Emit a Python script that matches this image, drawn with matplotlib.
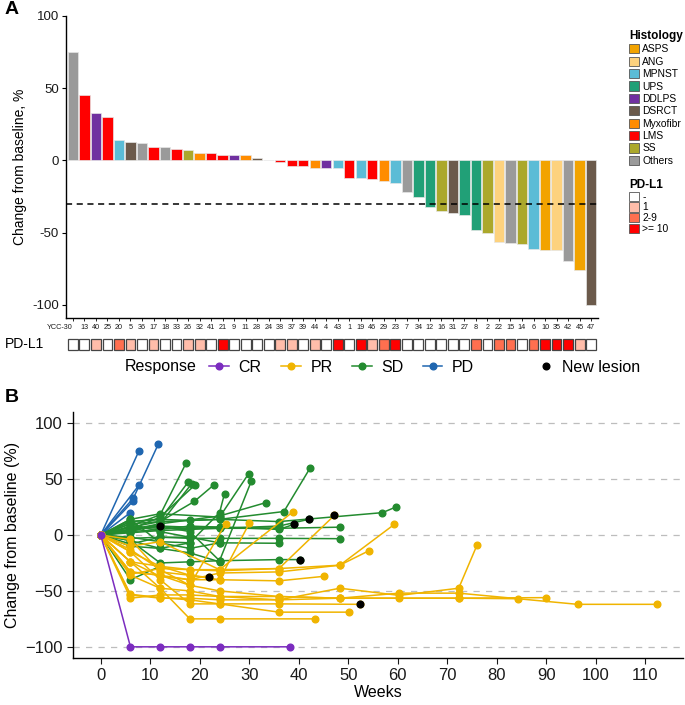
import matplotlib
matplotlib.use('Agg')
import matplotlib.pyplot as plt
import matplotlib.transforms as mtrans
from matplotlib.patches import Patch
from matplotlib.lines import Line2D
import numpy as np

plt.rcParams['font.family'] = ['Liberation Sans', 'DejaVu Sans']

# ---------------- Panel A data ----------------
patients = ['YCC-30', '13', '40', '25', '20', '5', '36', '17', '18', '33', '26', '32', '41', '21',
            '9', '11', '28', '24', '38', '37', '39', '44', '4', '43', '1', '19', '46', '29', '23',
            '7', '34', '12', '16', '31', '27', '8', '2', '22', '15', '14', '6', '10', '35', '42',
            '45', '47']
best_change = [75, 45, 33, 30, 14, 13, 12, 9, 9, 8, 7, 5, 5, 4, 4, 4, 2, 0.5, -0.8, -4, -4, -5,
               -5, -5, -12, -12, -12.5, -14.5, -15.5, -22, -25, -32, -35, -36, -38, -48, -50.5,
               -56.5, -57, -57.5, -61.5, -62, -62, -69.5, -75.5, -100]
histology = ['Others', 'LMS', 'DDLPS', 'LMS', 'MPNST', 'DSRCT', 'Others', 'LMS', 'Others', 'LMS',
             'SS', 'Myxofibr', 'LMS', 'LMS', 'DDLPS', 'Myxofibr', 'DSRCT', 'LMS', 'LMS', 'LMS',
             'LMS', 'Myxofibr', 'DDLPS', 'MPNST', 'LMS', 'MPNST', 'LMS', 'Myxofibr', 'MPNST',
             'Others', 'UPS', 'UPS', 'SS', 'DSRCT', 'UPS', 'UPS', 'SS', 'ANG', 'Others', 'SS',
             'MPNST', 'ASPS', 'ANG', 'Others', 'ASPS', 'DSRCT']
pdl1 = ['-', '-', '1', '-', '2-9', '1', '-', '1', '-', '-',
        '1', '1', '-', '>=10', '-', '-', '-', '-', '1', '1',
        '-', '1', '-', '>=10', '-', '>=10', '1', '2-9', '>=10', '-',
        '-', '-', '-', '-', '-', '2-9', '-', '2-9', '2-9', '-',
        '2-9', '>=10', '>=10', '>=10', '1', '-']

hist_levels = ['ASPS', 'ANG', 'MPNST', 'UPS', 'DDLPS', 'DSRCT', 'Myxofibr', 'LMS', 'SS', 'Others']
hist_colors = ['#F2A300', '#FDD27E', '#5BBCD6', '#21A077', '#7030A0', '#6B5A4B', '#FF8C00',
               '#FF0000', '#ABA82B', '#9A9A9A']
pd_levels = ['-', '1', '2-9', '>= 10']
pd_keys = ['-', '1', '2-9', '>=10']
pd_colors = ['#FFFFFF', '#FFBDAA', '#FF6F4F', '#FF0000']

# ---------------- Panel B data ----------------
pd_weeks = [[0, 7.7], [0, 6.6, 11.6], [0, 7.8], [0, 6.5], [0, 6]]
pd_values = [[0, 75], [0, 33, 81], [0, 45], [0, 30], [0, 20]]

cr_weeks = [[0, 6, 12, 18, 24, 38.3]]
cr_values = [[0, -100, -100, -100, -100, -100]]

sd_weeks = [[0, 6, 12, 17.2], [0, 6, 12, 17.6], [0, 6, 12, 18.4], [0, 6, 12, 19.1],
            [0, 6, 12, 18.9, 22.9], [0, 6, 12, 18, 24, 25], [0, 6, 12, 24, 29.9],
            [0, 6, 12, 18, 24, 30.4], [0, 6, 12, 24, 37, 42.3], [0, 6, 12, 24, 33.4],
            [0, 6, 12, 18, 24, 36, 48.3], [0, 6, 12, 18, 24, 36, 48.3],
            [0, 6, 12, 18, 24, 36, 56.9, 59.6], [0, 6, 12, 18, 24, 36, 40.3],
            [0, 6, 12, 18, 24], [0, 6, 12, 18, 24, 36], [0, 6, 12, 18, 24, 36, 39],
            [0, 6, 12, 18, 24, 36, 42], [0, 6, 12], [0, 6, 12, 18], [0, 6, 12, 18, 24],
            [0, 6, 12, 18, 24, 36], [0, 6, 12], [0, 6, 12, 18]]
sd_values = [[0, 8, 18, 64], [0, 12, 14, 47], [0, 3, 10, 46], [0, 5, 16, 45],
             [0, 10, 12, 30, 45], [0, -5, -12, -7, 20, 37], [0, 14, 19, 16, 55],
             [0, 5, 8, 3, -23, 48], [0, 7, 12, 14, 21, 60], [0, 5, 10, 17, 29],
             [0, 4, 8, 7, 7, 6, 7], [0, -3, -2, -3, -3, -3, -3.3],
             [0, 12, 14, 13, 14, 12, 20, 25], [0, -5, -25, -24, -23, -22, -22],
             [0, -10, -12, -16, -24], [0, 7, 6, 6, 6, 6], [0, 3, 5, 8, 7, 5, 9.5],
             [0, 2, 4, 5, 6, 8, 14], [0, 5, 8], [0, -2, -6, -7], [0, 14, -7, -12, -7],
             [0, -8, -2, -2, -7, -7.4], [0, -40, -28], [0, 10, 3, -2]]

pr_weeks = [[0, 6, 12, 18, 24, 43.3], [0, 6, 12, 18, 24, 36, 50.2],
            [0, 6, 12, 18, 24, 36, 52.3], [0, 6, 12, 18, 24, 36, 48.3, 60.3, 72.3, 84.3],
            [0, 6, 12, 18, 24, 36, 48.3, 60.3, 72.3, 96.3, 112.4],
            [0, 6, 12, 18, 24, 36, 48.3, 60.3, 72.3, 76],
            [0, 6, 12, 18, 24, 36, 48.3, 72.3, 90], [0, 6, 12, 18, 24, 36, 48.3, 59.3],
            [0, 6, 12, 18, 24, 36, 48.3, 54.2], [0, 6, 12, 18, 24, 36, 45],
            [0, 6, 12, 18, 21.8], [0, 6, 12, 18, 25.2], [0, 6, 12, 18, 24, 30],
            [0, 6, 12, 18, 24, 36, 47.2], [0, 6, 12, 24, 38.9]]
pr_values = [[0, -24, -47.6, -75, -75, -75], [0, -15, -40, -61.6, -61.6, -69, -69],
             [0, -53, -56, -58, -61.6, -61.6, -62],
             [0, -56.5, -53.6, -53.6, -55, -55, -56.5, -56.5, -56.5, -57],
             [0, -53.6, -56.5, -56.5, -58, -58, -56.5, -52, -52, -62, -62],
             [0, -36, -47.6, -50, -55, -58, -47.6, -54, -47.6, -9],
             [0, -33, -36, -45, -50, -55, -56.5, -56.5, -56],
             [0, -24, -28, -31, -31, -30, -27, 9.5],
             [0, -33, -36, -40, -34, -33, -27, -14], [0, -15, -28, -36, -40, -41, -37],
             [0, -4, -33, -36, -38], [0, -13, -31, -45, 10], [0, -24, -37, -40, -40, 10.4],
             [0, -35, -30, -31, -32, -30, 17.6], [0, -10, -6, -31, 21]]

nl_weeks = [12, 21.8, 39, 42, 47.2, 40.3, 52.3]
nl_values = [8, -38, 9.5, 14, 17.6, -22, -62]

resp_labels = ['CR', 'PR', 'SD', 'PD']
resp_colors = ['#7B2CBF', '#F0B400', '#238B2F', '#1F66B0']

W, H = 685, 705
fig = plt.figure(figsize=(W / 100, H / 100), dpi=100)

def fx(px):
    return px / W

def fy(py):
    return 1 - py / H

# ---------------- Panel A ----------------
axA = fig.add_axes([fx(66), fy(318), fx(532), 302 / H])
xpos = np.arange(len(patients))
cmap_h = dict(zip(hist_levels, hist_colors))
axA.bar(xpos, best_change, width=0.9, color=[cmap_h[h] for h in histology],
        edgecolor='#E6E6E6', linewidth=0.5, zorder=2)
axA.axhline(-30, color='black', ls=(0, (4, 3)), lw=1.1, zorder=3)
axA.set_xlim(-0.6, len(patients) - 0.4)
axA.set_ylim(-109, 100)
axA.set_yticks([-100, -50, 0, 50, 100])
axA.set_yticklabels(['-100', '-50', '0', '50', '100'], fontsize=9.5, color='#1a1a1a')
axA.set_xticks(xpos)
axA.set_xticklabels(patients, fontsize=5.2, color='#1a1a1a')
first = axA.get_xticklabels()[0]
first.set_ha('right')
first.set_transform(first.get_transform() +
                    mtrans.ScaledTranslation(3 / 100, 0, fig.dpi_scale_trans))
axA.tick_params(axis='x', length=2.5, width=0.6, pad=1.5)
axA.tick_params(axis='y', length=3, width=0.8, pad=2)
for s in ['top', 'right']:
    axA.spines[s].set_visible(False)
for s in ['left', 'bottom']:
    axA.spines[s].set_linewidth(1.0)
axA.set_ylabel('Change from baseline, %', fontsize=10, labelpad=4)

# PD-L1 row
axP = fig.add_axes([fx(66), fy(352), fx(532), 15 / H])
cmap_p = dict(zip(pd_keys, pd_colors))
axP.bar(xpos, np.ones(len(pdl1)), width=0.86, color=[cmap_p[p] for p in pdl1],
        edgecolor='#444444', linewidth=0.9)
axP.set_xlim(-0.6, len(patients) - 0.4)
axP.set_ylim(-0.2, 1.2)
axP.axis('off')
fig.text(fx(5), fy(344), 'PD-L1', fontsize=10, va='center', ha='left')

# Legends panel A
h_handles = [Patch(facecolor=c, edgecolor='#555555', linewidth=0.6) for c in hist_colors]
fig.legend(h_handles, hist_levels, loc='upper left', bbox_to_anchor=(fx(629), fy(30)),
           title='Histology', title_fontproperties={'weight': 'bold', 'size': 8.5},
           fontsize=7.4, frameon=False, handlelength=1.0, handleheight=1.0,
           handletextpad=0.3, labelspacing=0.22, borderpad=0, borderaxespad=0,
           alignment='left')
p_handles = [Patch(facecolor=c, edgecolor='#555555', linewidth=0.6) for c in pd_colors]
fig.legend(p_handles, pd_levels, loc='upper left', bbox_to_anchor=(fx(629), fy(179)),
           title='PD-L1', title_fontproperties={'weight': 'bold', 'size': 8.5},
           fontsize=7.4, frameon=False, handlelength=1.0, handleheight=1.0,
           handletextpad=0.3, labelspacing=0.06, borderpad=0, borderaxespad=0,
           alignment='left')

# ---------------- Panel B ----------------
axB = fig.add_axes([fx(73), fy(658), fx(610), 246 / H])
for yv in [-100, -50, 0, 50, 100]:
    axB.axhline(yv, color='#BDBDBD', ls=(0, (5, 5)), lw=0.9, zorder=0)

groups = [(pd_weeks, pd_values, resp_colors[3]), (sd_weeks, sd_values, resp_colors[2]),
          (pr_weeks, pr_values, resp_colors[1]), (cr_weeks, cr_values, resp_colors[0])]
for wks, vals, col in groups:
    for w, v in zip(wks, vals):
        axB.plot(w, v, '-o', color=col, lw=1.1, ms=4.8, zorder=2)
axB.plot(nl_weeks, nl_values, 'o', color='black', ms=4.8, ls='none', zorder=4)

axB.set_xlim(-5.6, 117.6)
axB.set_ylim(-110, 110)
axB.set_xticks(np.arange(0, 111, 10))
axB.set_yticks([-100, -50, 0, 50, 100])
axB.set_yticklabels(['\u2212100', '\u221250', '0', '50', '100'])
axB.tick_params(labelsize=12, length=4, width=0.8, colors='#1a1a1a')
for s in ['top', 'right']:
    axB.spines[s].set_visible(False)
for s in ['left', 'bottom']:
    axB.spines[s].set_linewidth(1.0)
axB.set_xlabel('Weeks', fontsize=11.5, labelpad=1)
axB.set_ylabel('Change from baseline (%)', fontsize=11.5, labelpad=4)

fig.text(fx(125), fy(367), 'Response', fontsize=11.5, va='center', ha='left')
r_handles = [Line2D([], [], color=c, marker='o', ms=4.8, lw=1.1) for c in resp_colors]
fig.legend(r_handles, resp_labels, loc='center left', bbox_to_anchor=(fx(209), fy(367)),
           ncol=4, frameon=False, fontsize=11.5, handlelength=1.25, handletextpad=0.6,
           columnspacing=1.2, borderpad=0, borderaxespad=0)
fig.legend([Line2D([], [], color='black', marker='o', ms=4.8, ls='none')], ['New lesion'],
           loc='center left', bbox_to_anchor=(fx(538), fy(367)), frameon=False,
           fontsize=11.5, handlelength=1.0, handletextpad=0.5, borderpad=0, borderaxespad=0)

fig.text(fx(5), fy(10), 'A', fontsize=14, fontweight='bold', va='center', ha='left')
fig.text(fx(5), fy(397), 'B', fontsize=14, fontweight='bold', va='center', ha='left')

fig.savefig('out.png', dpi=100)
